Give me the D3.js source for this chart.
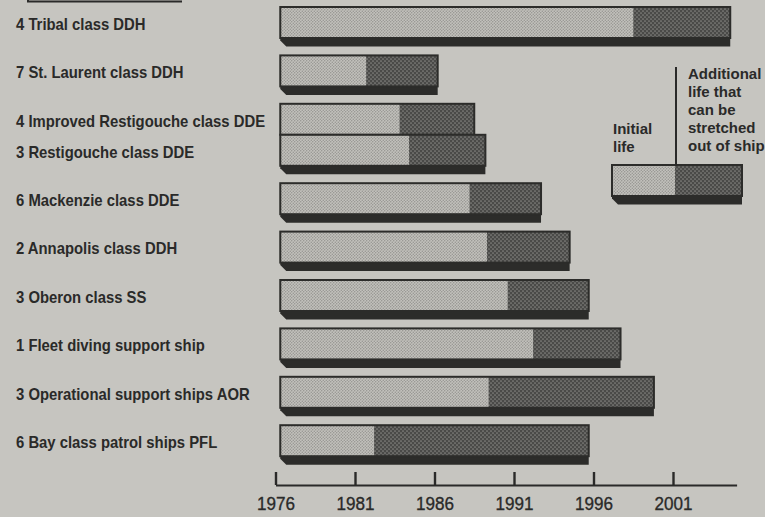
<!DOCTYPE html>
<html><head><meta charset="utf-8">
<script src="https://cdn.jsdelivr.net/npm/d3@7"></script>
<style>
html,body{margin:0;padding:0;background:#c6c5c0;}
svg{display:block;}
</style></head>
<body>
<script>
// ---- data ----
const shipClasses = [
  "4 Tribal class DDH",
  "7 St. Laurent class DDH",
  "4 Improved Restigouche class DDE",
  "3 Restigouche class DDE",
  "6 Mackenzie class DDE",
  "2 Annapolis class DDH",
  "3 Oberon class SS",
  "1 Fleet diving support ship",
  "3 Operational support ships AOR",
  "6 Bay class patrol ships PFL"
];
const startYear = [1976.3,1976.3,1976.3,1976.3,1976.3,1976.3,1976.3,1976.3,1976.3,1976.3];
const initialLifeEnd = [1998.5,1981.7,1983.8,1984.4,1988.2,1989.3,1990.6,1992.2,1989.4,1982.2];
const stretchedLifeEnd = [2004.6,1986.2,1988.5,1989.2,1992.7,1994.5,1995.7,1997.7,1999.8,1995.7];
const joinedToPrevious = [false,false,false,true,false,false,false,false,false,false];
const tickYears = [1976,1981,1986,1991,1996,2001];
const legendInitial = ["Initial","life"];
const legendAdditional = ["Additional","life that","can be","stretched","out of ship"];

// ---- layout ----
const W = 765, H = 517;
const faceH = 31, shadowH = 8.5, step = 48.4, top0 = 7;
const axisY = 485;
const ink = "#2a2a29";

const svg = d3.select("body").append("svg").attr("width", W).attr("height", H);
svg.append("rect").attr("width", W).attr("height", H).attr("fill", "#c6c5c0");

const defs = svg.append("defs");
function dotPattern(id, bg, dot, r, s) {
  const p = defs.append("pattern").attr("id", id).attr("patternUnits", "userSpaceOnUse")
    .attr("width", s).attr("height", s);
  p.append("rect").attr("width", s).attr("height", s).attr("fill", bg);
  p.append("circle").attr("cx", s/4).attr("cy", s/4).attr("r", r).attr("fill", dot);
  p.append("circle").attr("cx", 3*s/4).attr("cy", 3*s/4).attr("r", r).attr("fill", dot);
}
dotPattern("lightDots", "#c2c1bc", "#8f8e8a", 0.7, 3);
dotPattern("darkDots", "#4a4a48", "#858481", 0.85, 4);

const x = d3.scaleLinear().domain([1976, 2005]).range([275.5, 736.6]);

const rows = [];
let g = 0, joined = 0;
shipClasses.forEach((name, i) => {
  if (i > 0) { if (joinedToPrevious[i]) joined++; else g++; }
  rows.push({name, start: startYear[i], init: initialLifeEnd[i], end: stretchedLifeEnd[i], g, joined});
});
const yG = d3.scaleLinear().domain([0, 1]).range([top0, top0 + step]);
rows.forEach(r => r.y = yG(r.g) + r.joined * faceH);

function drawBar(parent, x0, xm, x1, y) {
  const gr = parent.append("g");
  gr.append("path")
    .attr("d", `M${x0},${y+faceH} L${x1},${y+faceH} L${x1},${y+faceH+shadowH} L${x0+6},${y+faceH+shadowH} L${x0},${y+faceH+2.5} Z`)
    .attr("fill", "#2c2c2a");
  gr.append("rect").attr("x", x0).attr("y", y).attr("width", xm - x0).attr("height", faceH)
    .attr("fill", "url(#lightDots)");
  gr.append("rect").attr("x", xm).attr("y", y).attr("width", x1 - xm).attr("height", faceH)
    .attr("fill", "url(#darkDots)");
  gr.append("rect").attr("x", x0).attr("y", y).attr("width", x1 - x0).attr("height", faceH)
    .attr("fill", "none").attr("stroke", "#2c2c2a").attr("stroke-width", 2);
  return gr;
}

const bars = svg.append("g");
rows.forEach(r => drawBar(bars, x(r.start), x(r.init), x(r.end), r.y));

// labels
svg.append("g").selectAll("text").data(rows).join("text")
  .attr("transform", d => `translate(16,${d.y + faceH/2 + 1.5}) scale(0.9,1)`)
  .attr("dominant-baseline", "central")
  .attr("font-family", "'Liberation Sans', Arial, sans-serif")
  .attr("font-weight", "bold").attr("font-size", 16.5).attr("fill", ink)
  .text(d => d.name);

// axis
const axis = d3.axisBottom(x).tickValues(tickYears).tickFormat(d3.format("d"))
  .tickSizeInner(-13).tickSizeOuter(0).tickPadding(12);
const ax = svg.append("g").attr("transform", `translate(0,${axisY})`).call(axis);
ax.select(".domain").attr("stroke", ink).attr("stroke-width", 2);
ax.selectAll(".tick line").attr("stroke", ink).attr("stroke-width", 2.4);
ax.selectAll(".tick text").attr("fill", ink).attr("stroke", ink).attr("stroke-width", 0.35)
  .attr("font-family", "'Liberation Sans', Arial, sans-serif").attr("font-size", 19)
  .attr("transform", "scale(0.9,1)");

// header rule fragment (top-left)
svg.append("path").attr("d", "M28,-4 L28,1.5 L182,1.5").attr("fill", "none")
  .attr("stroke", ink).attr("stroke-width", 2);

// legend
const lg = svg.append("g");
drawBar(lg, 612, 675, 742, 165);
lg.append("line").attr("x1", 676).attr("x2", 676).attr("y1", 67).attr("y2", 166)
  .attr("stroke", ink).attr("stroke-width", 2);
const lf = "'Liberation Sans', Arial, sans-serif";
lg.selectAll("text.init").data(legendInitial).join("text").attr("class", "init")
  .attr("x", 613).attr("y", (d, i) => 134 + i * 17.5)
  .attr("font-family", lf).attr("font-weight", "bold").attr("font-size", 15).attr("fill", ink)
  .text(d => d);
lg.selectAll("text.add").data(legendAdditional).join("text").attr("class", "add")
  .attr("x", 688).attr("y", (d, i) => 79 + i * 18)
  .attr("font-family", lf).attr("font-weight", "bold").attr("font-size", 15).attr("fill", ink)
  .text(d => d);
</script>
</body></html>
